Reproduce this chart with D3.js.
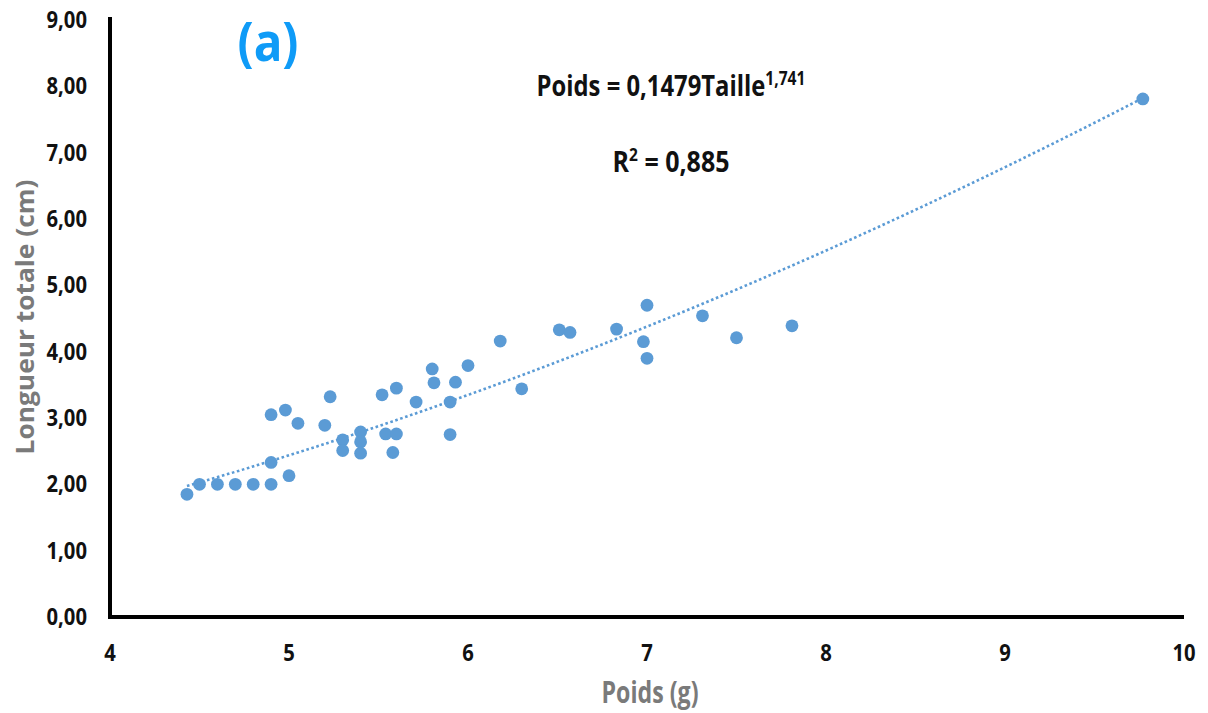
<!DOCTYPE html>
<html>
<head>
<meta charset="utf-8">
<script src="https://cdn.jsdelivr.net/npm/d3@7"></script>
<style>
  html, body { margin: 0; padding: 0; background: #ffffff; }
  svg { display: block; }
  text { font-family: "Open Sans", "Noto Sans", "DejaVu Sans", sans-serif; font-weight: 700; }
</style>
</head>
<body>
<svg id="chart" width="1208" height="713"></svg>
<script>
// Poids (g) of each specimen
const poids = [
  4.43, 4.50, 4.60, 4.70, 4.80, 4.90, 4.90, 5.00, 4.90, 4.98,
  5.05, 5.20, 5.23, 5.30, 5.30, 5.40, 5.40, 5.40, 5.52, 5.60,
  5.54, 5.60, 5.58, 5.71, 5.80, 5.81, 5.90, 5.90, 5.93, 6.00,
  6.18, 6.30, 6.51, 6.57, 6.83, 7.00, 6.98, 7.00, 7.31, 7.50,
  7.81, 9.77
];
// Longueur totale (cm) of each specimen
const longueur = [
  1.85, 2.00, 2.00, 2.00, 2.00, 2.00, 2.33, 2.13, 3.05, 3.12,
  2.92, 2.89, 3.32, 2.67, 2.51, 2.79, 2.64, 2.47, 3.35, 3.45,
  2.76, 2.76, 2.48, 3.24, 3.74, 3.53, 3.24, 2.75, 3.54, 3.79,
  4.16, 3.44, 4.33, 4.29, 4.34, 4.70, 4.15, 3.90, 4.54, 4.21,
  4.39, 7.81
];
// Power trend line: y = coef * x^exponent
const trendCoef = 0.1479;
const trendExp = 1.741;
const r2 = "0,885";

const xTicks = [4, 5, 6, 7, 8, 9, 10];
const yTicks = [0, 1, 2, 3, 4, 5, 6, 7, 8, 9];

const svg = d3.select("#chart");
const blue = "#5b9bd5";

const x = d3.scaleLinear().domain([4, 10]).range([110, 1184]);
const y = d3.scaleLinear().domain([0, 9]).range([617, 20]);
const fmtY = v => d3.format(".2f")(v).replace(".", ",");

// Text helper: places text in a group squeezed horizontally (to a target width or by a fixed factor)
function placeText(parent, cx, cy, opts, build) {
  const g = parent.append("g");
  const t = g.append("text").attr("text-anchor", opts.anchor || "middle");
  build(t);
  const sx = opts.width ? opts.width / t.node().getBBox().width : (opts.sx || 1);
  g.attr("transform", `translate(${cx},${cy}) scale(${sx},1)`);
  return t;
}

// Trend line
const x0 = d3.min(poids), x1 = d3.max(poids);
const curve = d3.range(0, 201).map(i => {
  const xv = x0 + (x1 - x0) * i / 200;
  return [xv, trendCoef * Math.pow(xv, trendExp)];
});
svg.append("path")
  .datum(curve)
  .attr("d", d3.line().x(d => x(d[0])).y(d => y(d[1])))
  .attr("fill", "none")
  .attr("stroke", blue)
  .attr("stroke-width", 2.6)
  .attr("stroke-dasharray", "2.6 2.6");

// Points
svg.append("g").selectAll("circle")
  .data(poids.map((p, i) => [p, longueur[i]]))
  .join("circle")
  .attr("cx", d => x(d[0]))
  .attr("cy", d => y(d[1]))
  .attr("r", 6.4)
  .attr("fill", blue);

// Axes
const axisG = svg.append("g");
axisG.append("line")
  .attr("x1", x(4)).attr("x2", x(4))
  .attr("y1", y(9) - 3).attr("y2", y(0))
  .attr("stroke", "#000").attr("stroke-width", 4);
axisG.append("line")
  .attr("x1", x(4) - 2).attr("x2", x(10))
  .attr("y1", y(0)).attr("y2", y(0))
  .attr("stroke", "#000").attr("stroke-width", 4);

// Tick labels
yTicks.forEach(v => {
  placeText(svg, 87, y(v) + 8, { anchor: "end", sx: 0.88 },
    t => t.text(fmtY(v)).attr("font-size", 23).attr("fill", "#111"));
});
xTicks.forEach(v => {
  placeText(svg, x(v), 661, { sx: 0.88 },
    t => t.text(v).attr("font-size", 23).attr("fill", "#111"));
});

// Axis titles
placeText(svg, 650, 703, { width: 97 },
  t => t.text("Poids (g)").attr("font-size", 30).attr("fill", "#7a7a7a"));

(function () {
  const label = "Longueur totale (cm)";
  const g = svg.append("g");
  const t = g.append("text").attr("text-anchor", "middle").attr("font-size", 30)
    .attr("fill", "#7a7a7a").text(label);
  const len = t.node().getComputedTextLength();
  const fs = 30 * 275 / len;
  t.attr("font-size", fs);
  const sx = 18 / (0.714 * fs);
  g.attr("transform", `translate(34,317) scale(${sx},1) rotate(-90)`);
})();

// Panel letter
placeText(svg, 268, 61, { width: 61 },
  t => t.text("(a)").attr("font-size", 54).attr("fill", "#0f9bf7"));

// Equation and R²
placeText(svg, 671, 96, { width: 269 }, t => {
  t.attr("font-size", 29).attr("fill", "#111");
  t.append("tspan").text("Poids = 0,1479Taille");
  t.append("tspan").attr("font-size", 19).attr("dy", -11).text("1,741");
});
placeText(svg, 671, 172, { width: 117 }, t => {
  t.attr("font-size", 29).attr("fill", "#111");
  t.append("tspan").text("R");
  t.append("tspan").attr("font-size", 18).attr("dy", -11).text("2");
  t.append("tspan").attr("dy", 11).text(" = " + r2);
});
</script>
</body>
</html>
